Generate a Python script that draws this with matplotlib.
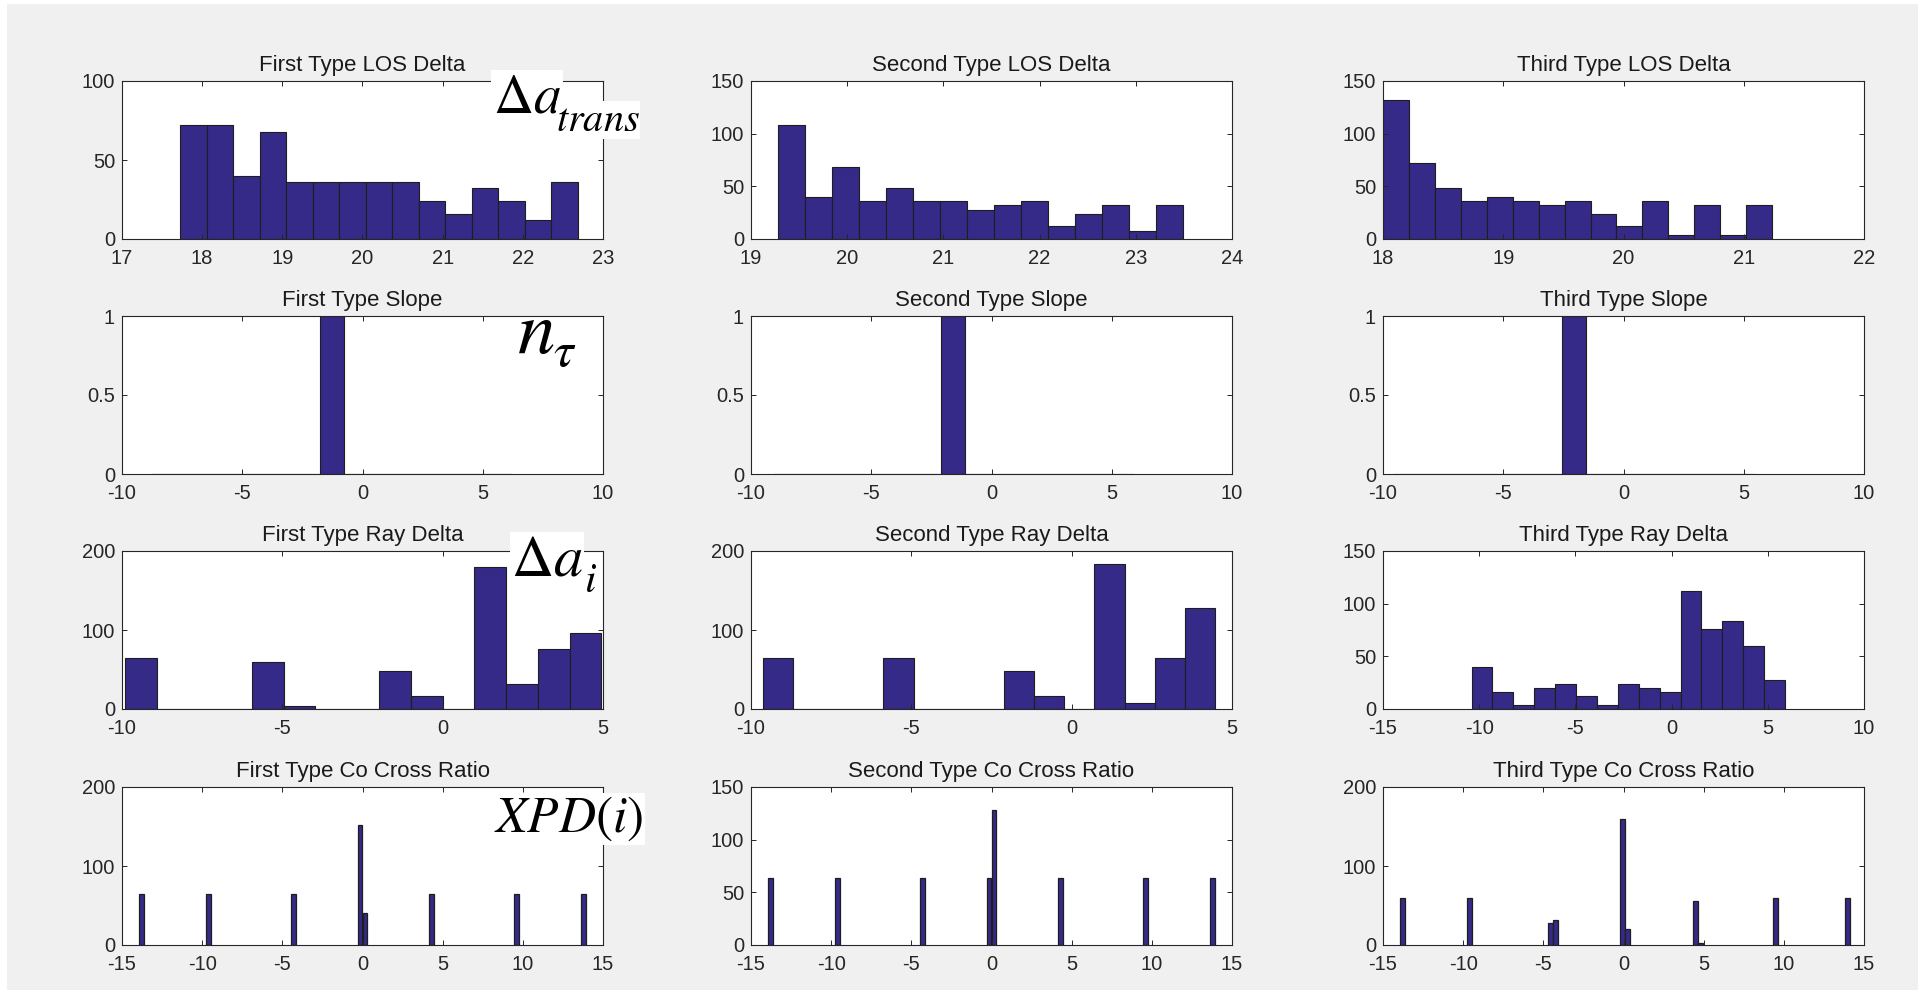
import matplotlib
matplotlib.use("Agg")
import matplotlib.pyplot as plt
import numpy as np
from matplotlib.patches import Rectangle
from matplotlib.ticker import FuncFormatter

W, H = 1918, 990

# ---- values (counts per bin, bin range) ----
los1_range = (17.725, 22.686)
los1_counts = [72, 72, 40, 68, 36, 36, 36, 36, 36, 24, 16, 32, 24, 12, 36]
los2_range = (19.276, 23.49)
los2_counts = [108, 40, 68, 36, 48, 36, 36, 28, 32, 36, 12, 24, 32, 8, 32]
los3_range = (18.0, 21.236)
los3_counts = [132, 72, 48, 36, 40, 36, 32, 36, 24, 12, 36, 4, 32, 4, 32]

slope1_range = (-8.78, 6.22)
slope2_range = (-9.1, 5.9)
slope3_range = (-9.55, 5.45)
slope_counts = [0, 0, 0, 0, 0, 0, 0, 1, 0, 0, 0, 0, 0, 0, 0]

ray1_range = (-9.91, 4.95)
ray1_counts = [64, 0, 0, 0, 60, 4, 0, 0, 48, 16, 0, 180, 32, 76, 96]
ray2_range = (-9.63, 4.47)
ray2_counts = [64, 0, 0, 0, 64, 0, 0, 0, 48, 16, 0, 184, 8, 64, 128]
ray3_range = (-10.4, 5.9)
ray3_counts = [40, 16, 4, 20, 24, 12, 4, 24, 20, 16, 112, 76, 84, 60, 28]

xpd1_x = [-13.8, -9.6, -4.3, -0.15, 0.15, 4.3, 9.6, 13.8]
xpd1_n = [64, 64, 64, 152, 40, 64, 64, 64]
xpd2_x = [-13.8, -9.6, -4.3, -0.15, 0.15, 4.3, 9.6, 13.8]
xpd2_n = [64, 64, 64, 64, 128, 64, 64, 64]
xpd3_x = [-13.8, -9.6, -4.53, -4.22, -0.05, 0.26, 4.5, 4.81, 9.5, 14.0]
xpd3_n = [60, 60, 28, 32, 160, 20, 56, 2, 60, 60]

BAR = "#352a87"
EDGE = "#1e1e1e"
INK = "#262626"

plt.rcParams["font.family"] = ["Liberation Sans", "DejaVu Sans"]
plt.rcParams["mathtext.fontset"] = "stix"
plt.rcParams["axes.unicode_minus"] = False

fig = plt.figure(figsize=(W / 100, H / 100), dpi=100, facecolor="white")
fig.patches.append(Rectangle((7 / W, 0), 1, 1 - 4 / H, transform=fig.transFigure,
                             facecolor="#f0f0f0", edgecolor="none", zorder=-10))

col_left = [122, 751, 1383]
row_top = [81, 316, 551, 787]
ax_w, ax_h = 481, 158


def make_ax(r, c):
    x0 = col_left[c] / W
    y0 = 1 - (row_top[r] + ax_h) / H
    ax = fig.add_axes([x0, y0, ax_w / W, ax_h / H])
    for s in ax.spines.values():
        s.set_color(INK)
        s.set_linewidth(0.8)
    ax.tick_params(direction="in", top=True, right=True, length=3.5, width=0.7,
                   labelsize=14.5, colors=INK)
    ax.tick_params(axis="x", pad=7)
    ax.tick_params(axis="y", pad=5)
    ax.yaxis.set_major_formatter(FuncFormatter(lambda v, p: f"{v:g}"))
    return ax


def hist_bars(ax, rng, counts):
    edges = np.linspace(rng[0], rng[1], len(counts) + 1)
    ax.bar(edges[:-1], counts, width=np.diff(edges), align="edge",
           color=BAR, edgecolor=EDGE, linewidth=0.8)


def spike_bars(ax, xs, ns, width):
    ax.bar(xs, ns, width=width, color=BAR, edgecolor=EDGE, linewidth=0.9)


def finish(ax, title, xlim, xticks, ylim, yticks):
    ax.set_xlim(*xlim)
    ax.set_ylim(*ylim)
    ax.set_xticks(xticks)
    ax.set_yticks(yticks)
    ax.set_title(title, fontsize=16, color="#1a1a1a", pad=7)


# row 1: LOS delta
ax = make_ax(0, 0)
hist_bars(ax, los1_range, los1_counts)
finish(ax, "First Type LOS Delta", (17, 23), range(17, 24), (0, 100), [0, 50, 100])
ax = make_ax(0, 1)
hist_bars(ax, los2_range, los2_counts)
finish(ax, "Second Type LOS Delta", (19, 24), range(19, 25), (0, 150), [0, 50, 100, 150])
ax = make_ax(0, 2)
hist_bars(ax, los3_range, los3_counts)
finish(ax, "Third Type LOS Delta", (18, 22), range(18, 23), (0, 150), [0, 50, 100, 150])

# row 2: slope
slope_ticks = [-10, -5, 0, 5, 10]
for c, (rng, name) in enumerate([(slope1_range, "First"), (slope2_range, "Second"),
                                 (slope3_range, "Third")]):
    ax = make_ax(1, c)
    hist_bars(ax, rng, slope_counts)
    finish(ax, f"{name} Type Slope", (-10, 10), slope_ticks, (0, 1), [0, 0.5, 1])

# row 3: ray delta
ax = make_ax(2, 0)
hist_bars(ax, ray1_range, ray1_counts)
finish(ax, "First Type Ray Delta", (-10, 5), [-10, -5, 0, 5], (0, 200), [0, 100, 200])
ax = make_ax(2, 1)
hist_bars(ax, ray2_range, ray2_counts)
finish(ax, "Second Type Ray Delta", (-10, 5), [-10, -5, 0, 5], (0, 200), [0, 100, 200])
ax = make_ax(2, 2)
hist_bars(ax, ray3_range, ray3_counts)
finish(ax, "Third Type Ray Delta", (-15, 10), [-15, -10, -5, 0, 5, 10], (0, 150),
       [0, 50, 100, 150])

# row 4: co/cross ratio
xpd_ticks = [-15, -10, -5, 0, 5, 10, 15]
ax = make_ax(3, 0)
spike_bars(ax, xpd1_x, xpd1_n, 0.29)
finish(ax, "First Type Co Cross Ratio", (-15, 15), xpd_ticks, (0, 200), [0, 100, 200])
ax = make_ax(3, 1)
spike_bars(ax, xpd2_x, xpd2_n, 0.29)
finish(ax, "Second Type Co Cross Ratio", (-15, 15), xpd_ticks, (0, 150), [0, 50, 100, 150])
ax = make_ax(3, 2)
spike_bars(ax, xpd3_x, xpd3_n, 0.31)
finish(ax, "Third Type Co Cross Ratio", (-15, 15), xpd_ticks, (0, 200), [0, 100, 200])

# pasted symbol labels (white-backed, like the equation images in the original)
box = dict(facecolor="white", edgecolor="none", pad=1)
sub_box = dict(facecolor="white", edgecolor="none", pad=0)
fig.text(493 / W, 1 - 112 / H, r"$\Delta a$", fontsize=40, ha="left",
         va="baseline", color="black", bbox=box)
fig.text(556 / W, 1 - 131 / H, r"$trans$", fontsize=29, ha="left",
         va="baseline", color="black", bbox=sub_box)
fig.text(517 / W, 1 - 353 / H, r"$n$", fontsize=54, ha="left",
         va="baseline", color="black")
fig.text(553 / W, 1 - 366 / H, r"$\tau$", fontsize=36, ha="left",
         va="baseline", color="black")
fig.text(511 / W, 1 - 575 / H, r"$\Delta a$", fontsize=42, ha="left",
         va="baseline", color="black", bbox=box)
fig.text(584 / W, 1 - 592 / H, r"$i$", fontsize=30, ha="left",
         va="baseline", color="black", bbox=sub_box)
fig.text(494 / W, 1 - 832 / H, r"$XPD(i)$", fontsize=37, ha="left",
         va="baseline", color="black", bbox=box)

fig.savefig("out.png", dpi=100, facecolor=fig.get_facecolor())
